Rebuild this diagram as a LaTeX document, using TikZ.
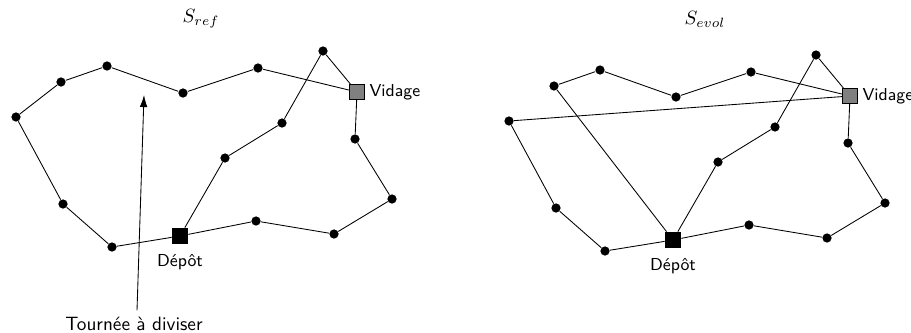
\documentclass[tikz,border=0pt]{standalone}
\usepackage{tikz}
\usetikzlibrary{arrows.meta,positioning}
\tikzset{
  cli/.style={circle, fill=black, inner sep=0pt, minimum size=4.8pt},
  depot/.style={rectangle, fill=black, inner sep=0pt, minimum size=8.3pt},
  vidage/.style={rectangle, draw=black, fill=gray, inner sep=0pt, minimum size=8pt},
  lab/.style={font=\sffamily\small},
  ttl/.style={font=\normalsize},
  arc/.style={black, line width=0.45pt},
  fleche/.style={-{Latex[length=2.2mm, width=1.4mm]}, black, line width=0.45pt},
}
% clients, depot and vidage of one solution, names prefixed by #1
\newcommand{\tournees}[1]{%
  \node[cli] (#1a) at (61,82) {};
  \node[cli] (#1b) at (107,66) {};
  \node[cli] (#1c) at (183,93) {};
  \node[cli] (#1d) at (258,68) {};
  \node[cli] (#1e) at (323,51) {};
  \node[cli] (#1f) at (355,139) {};
  \node[cli] (#1g) at (392,199) {};
  \node[cli] (#1h) at (334,234) {};
  \node[cli] (#1i) at (256,221) {};
  \node[cli] (#1j) at (112,247) {};
  \node[cli] (#1k) at (63,204) {};
  \node[cli] (#1l) at (16,117) {};
  \node[cli] (#1m) at (225,158) {};
  \node[cli] (#1n) at (282,123) {};
  \node[depot] (#1dep) at (180,236) {};
  \node[vidage] (#1vid) at (357,92) {};
  \node[lab, below=1.5pt of #1dep] (#1deplab) {Dépôt};
  \node[lab, right=-1.2pt of #1vid] (#1vidlab) {Vidage};}

\begin{document}
\begin{tikzpicture}[x=0.52pt, y=-0.52pt]
\useasboundingbox (0,0) rectangle (911,332);
\node[ttl] (tref) at (201,19) {$S_{ref}$};
\node[ttl] (tevol) at (705,19) {$S_{evol}$};
\begin{scope}
  \tournees{r}
  \draw[arc] (rvid) -- (rd) -- (rc) -- (rb) -- (ra) -- (rl) -- (rk) -- (rj) -- (rdep);
  \draw[arc] (rdep) -- (rm) -- (rn) -- (re) -- (rvid);
  \draw[arc] (rvid) -- (rf) -- (rg) -- (rh) -- (ri) -- (rdep);
\end{scope}
\begin{scope}[shift={(493,4)}]
  \tournees{e}
  \draw[arc] (evid) -- (ed) -- (ec) -- (eb) -- (ea) -- (edep);
  \draw[arc] (evid) -- (el) -- (ek) -- (ej) -- (edep);
  \draw[arc] (edep) -- (em) -- (en) -- (ee) -- (evid);
  \draw[arc] (evid) -- (ef) -- (eg) -- (eh) -- (ei) -- (edep);
\end{scope}
\node[lab, font=\sffamily\normalsize] (tour) at (134,324) {Tournée à diviser};
\coordinate (cible) at (144,95);
\draw[fleche] (tour.north) ++(3,0) -- (cible);
\end{tikzpicture}
\end{document}
